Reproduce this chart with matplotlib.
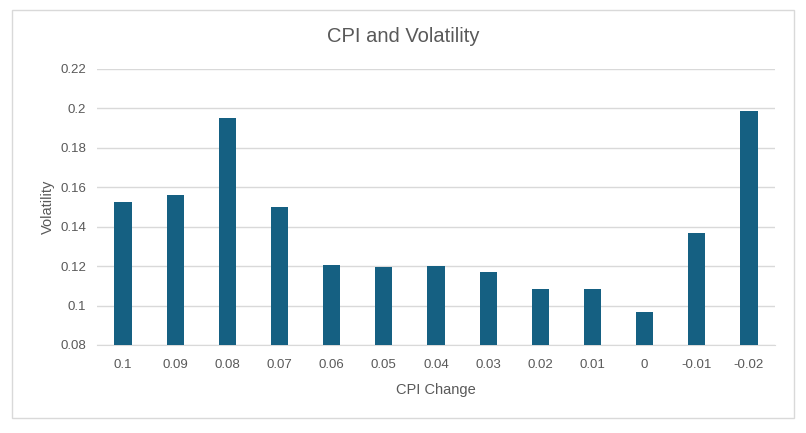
import matplotlib
matplotlib.use("Agg")
import matplotlib.pyplot as plt
from matplotlib.patches import Rectangle

categories = ["0.1", "0.09", "0.08", "0.07", "0.06", "0.05", "0.04", "0.03", "0.02", "0.01", "0", "-0.01", "-0.02"]
volatility = [0.1525, 0.1561, 0.1951, 0.1502, 0.1208, 0.1194, 0.1199, 0.1168, 0.1083, 0.1083, 0.0967, 0.1370, 0.1987]
yticks = [0.08, 0.1, 0.12, 0.14, 0.16, 0.18, 0.2, 0.22]
yticklabels = ["0.08", "0.1", "0.12", "0.14", "0.16", "0.18", "0.2", "0.22"]

plt.rcParams['font.family'] = ['Liberation Sans', 'DejaVu Sans']
txt = '#595959'

fig = plt.figure(figsize=(8.06, 4.33), dpi=100)
fig.patches.append(Rectangle((12/806, 1 - 418/433), (794-12)/806, (418-10)/433,
                             transform=fig.transFigure, fill=False, edgecolor='#d9d9d9', linewidth=1))
ax = fig.add_axes([97/806, 1 - 345/433, (775-97)/806, (345-69)/433])

x = range(len(categories))
ax.bar(x, volatility, width=0.33, color='#156082', zorder=3, bottom=0)
ax.set_xlim(-0.5, len(categories) - 0.5)
ax.set_ylim(0.08, 0.22)
ax.set_yticks(yticks)
ax.set_yticklabels(yticklabels)
ax.set_xticks(list(x))
ax.set_xticklabels(categories)
ax.grid(axis='y', color='#d9d9d9', linewidth=1, zorder=0)
for s in ['top', 'right', 'left']:
    ax.spines[s].set_visible(False)
ax.spines['bottom'].set_color('#d9d9d9')
ax.tick_params(axis='both', length=0, labelsize=9.5, colors=txt)
ax.tick_params(axis='x', pad=10)
ax.tick_params(axis='y', pad=8)

ax.set_xlabel("CPI Change", fontsize=10.5, color=txt, labelpad=9)
ax.set_ylabel("Volatility", fontsize=10.5, color=txt, labelpad=4)
fig.text(403/806, 1 - 37/433, "CPI and Volatility", ha='center', va='center', fontsize=14.5, color=txt)

fig.savefig("out.png", dpi=100)
